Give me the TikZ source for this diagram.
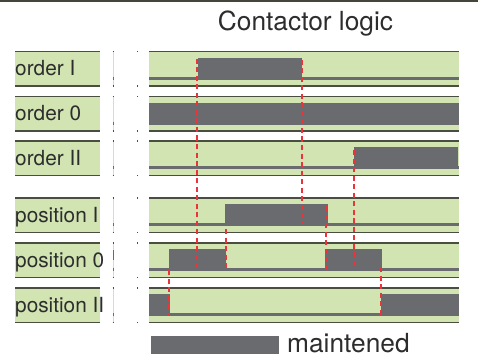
\documentclass[tikz,border=0pt]{standalone}
\usepackage{fontspec}
\setmainfont{TeX Gyre Heros}
\usepackage{xcolor}
\usepackage{tikz}
\usetikzlibrary{positioning}
\definecolor{RowGreen}{RGB}{209,228,178}
\definecolor{SignalGray}{RGB}{106,107,111}
\definecolor{EdgeDark}{RGB}{74,78,64}
\definecolor{SwitchRed}{RGB}{234,51,58}
\definecolor{TextDark}{RGB}{45,45,45}
\tikzset{
  % Bande delle righe
  row band/.style={fill=RowGreen},
  row edge/.style={EdgeDark,line width=1.5pt},
  % Livelli del segnale
  signal/.style={fill=SignalGray},
  % Commutazioni
  switch line/.style={SwitchRed,line width=1.4pt,dash pattern=on 5pt off 3.5pt},
  % Testi
  row label/.style={anchor=base west,inner sep=0,text=TextDark,font=\fontsize{20.8}{23}\selectfont},
  big label/.style={inner sep=0,text=TextDark,font=\fontsize{26.3}{29}\selectfont}
}

\begin{document}
\begin{tikzpicture}[x=1pt,y=-1pt]
  \useasboundingbox (0,0) rectangle (478,358);
  \draw[EdgeDark!90!black,line width=2pt] (0,1) -- (478,1);
  \node[big label,anchor=base] (title) at (305.5,31) {Contactor logic};
  % righe: bordo superiore / nome
  \foreach \t/\lab/\nm in {51/order I/oI,96/order 0/oO,140/order II/oII,
                           197/position I/pI,242/position 0/pO,287/position II/pII}{
    \fill[row band] (15,\t) rectangle (100,\t+36);
    \fill[row band] (112.5,\t) rectangle (114,\t+36);
    \fill[row band] (149,\t) rectangle (459,\t+36);
    \foreach \a/\b in {15/100,112.5/114,149/459}{
      \draw[row edge] (\a,\t+0.75) -- (\b,\t+0.75);
      \draw[row edge] (\a,\t+35.25) -- (\b,\t+35.25);
    }
    \fill[SignalGray] (112.5,\t+26) rectangle (114,\t+29);
    \fill[EdgeDark] (136.5,\t) rectangle (137.5,\t+1.5);
    \fill[EdgeDark] (136.5,\t+34.5) rectangle (137.5,\t+36);
    \fill[signal] (149,\t+26) rectangle (459,\t+29);
    \node[row label] (\nm) at (15,\t+25) {\lab};
  }
  % livelli alti
  \foreach \t/\a/\b in {51/198/302,96/149/459,140/354/458,197/225/328,
                        242/169/226,242/325/382,287/149/170,287/381/459}
    \fill[signal] (\a,\t+7) rectangle (\b,\t+29);
  \fill[SignalGray] (112.5,250) rectangle (114,260);
  % commutazioni
  \draw[switch line] (197,59) -- (197,270);
  \draw[switch line] (302,60) -- (302,224);
  \draw[switch line] (354,150) -- (354,269);
  \draw[switch line] (226,229) -- (226,270);
  \draw[switch line] (326,206) -- (326,269);
  \draw[switch line] (169,270) -- (169,315);
  \draw[switch line] (381,267) -- (381,315);
  % legenda
  \fill[signal] (151,336) rectangle (279,354);
  \node[big label,anchor=base west] (maint) at (287,352) {maintened};
\end{tikzpicture}
\end{document}
